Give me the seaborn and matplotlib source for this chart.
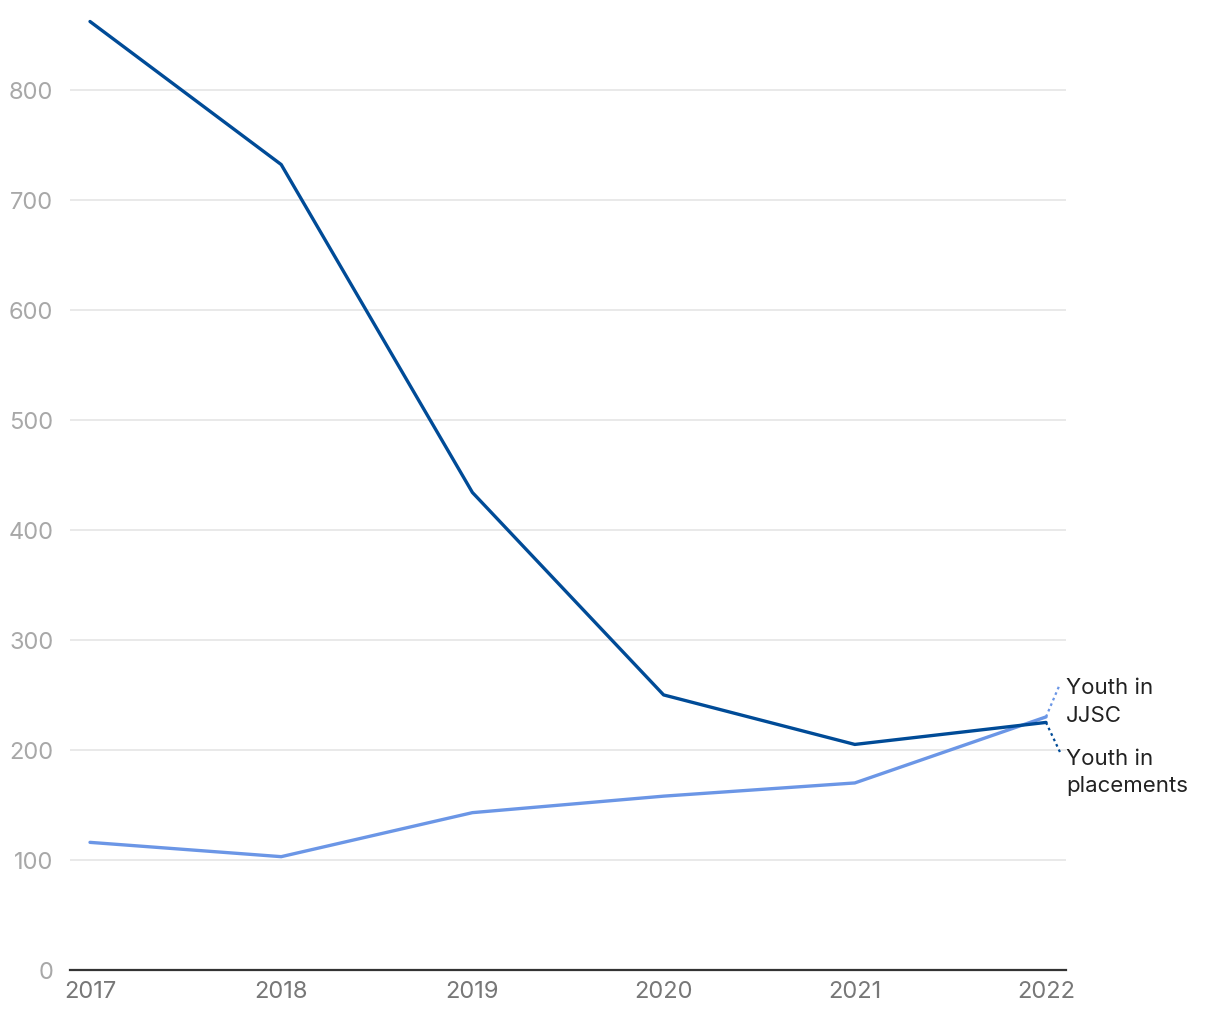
import matplotlib
matplotlib.use("Agg")
import matplotlib.pyplot as plt
import seaborn as sns
import pandas as pd

years = [2017, 2018, 2019, 2020, 2021, 2022]
placements = [862, 732, 434, 250, 205, 225]
jjsc = [116, 103, 143, 158, 170, 230]
yticks = [0, 100, 200, 300, 400, 500, 600, 700, 800]

sns.set_theme(style="white")
plt.rcParams['font.family'] = ['Inter', 'DejaVu Sans']

df = pd.DataFrame({"year": years * 2,
                   "value": placements + jjsc,
                   "series": ["Youth in placements"] * 6 + ["Youth in JJSC"] * 6})

dark = "#004b97"
light = "#6b96e6"

fig = plt.figure(figsize=(12.2, 10.2), dpi=100)
ax = fig.add_axes([70/1220, 1 - 971/1020, (1066-70)/1220, (971-17)/1020])

sns.lineplot(data=df, x="year", y="value", hue="series",
             palette={"Youth in placements": dark, "Youth in JJSC": light},
             hue_order=["Youth in JJSC", "Youth in placements"],
             linewidth=2.4, ax=ax, legend=False)

ax.set_xlim(2017 - 20/191.2, 2022 + 20/191.2)
ax.set_ylim(0, 867)
ax.set_yticks(yticks)
ax.set_yticklabels([str(t) for t in yticks])
ax.set_xticks(years)
ax.set_xticklabels([str(y) for y in years])
ax.set_xlabel("")
ax.set_ylabel("")
for t in yticks[1:]:
    ax.axhline(t, color="#e3e3e3", linewidth=1.1, zorder=0)
for s in ["top", "right", "left"]:
    ax.spines[s].set_visible(False)
ax.spines["bottom"].set_color("#333333")
ax.spines["bottom"].set_linewidth(1.6)
ax.tick_params(axis="y", length=0, pad=12, labelsize=17, labelcolor="#a8a8a8")
ax.tick_params(axis="x", length=0, pad=7, labelsize=17, labelcolor="#777777")

# leader lines and labels
xend = years[-1]
dx = 14/191.2
ax.plot([xend, xend + dx], [jjsc[-1], jjsc[-1] + 30], linestyle=(0, (1.2, 1.5)),
        color=light, linewidth=1.6, clip_on=False)
ax.plot([xend, xend + dx], [placements[-1], placements[-1] - 27], linestyle=(0, (1.2, 1.5)),
        color=dark, linewidth=1.6, clip_on=False)
ax.text(xend + 20/191.2, jjsc[-1] + 36, "Youth in\nJJSC", fontsize=16, color="#222222",
        va="top", ha="left", linespacing=1.45, clip_on=False)
ax.text(xend + 20/191.2, placements[-1] - 23, "Youth in\nplacements", fontsize=16,
        color="#222222", va="top", ha="left", linespacing=1.45, clip_on=False)

fig.savefig("out.png", dpi=100)
